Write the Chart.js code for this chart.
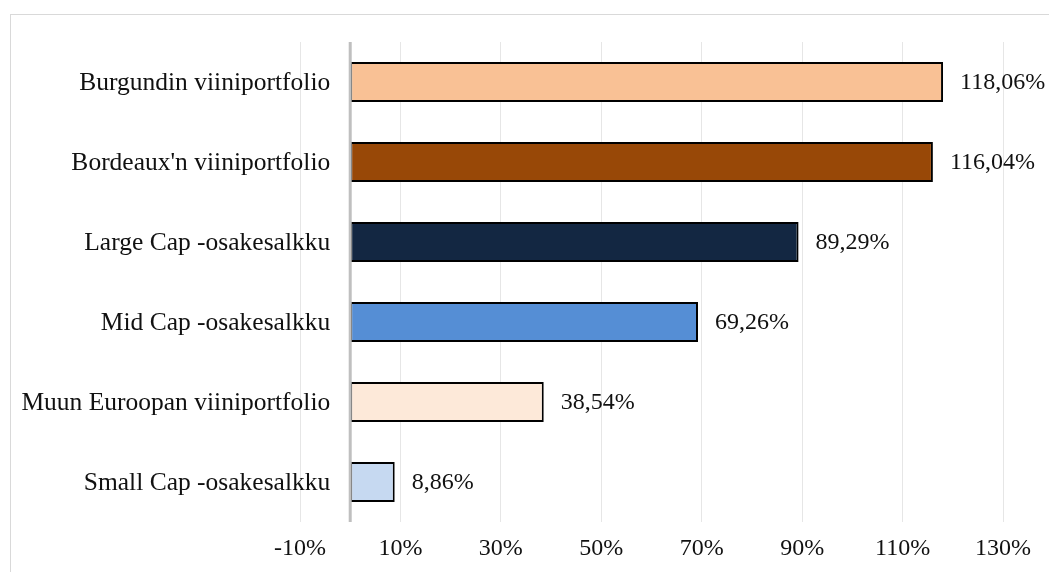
<!DOCTYPE html>
<html>
<head>
<meta charset="utf-8">
<script src="https://cdn.jsdelivr.net/npm/chart.js@4"></script>
<style>
    html, body { margin: 0; padding: 0; background: #fff; overflow: hidden; }
    #frame { position: absolute; left: 10px; top: 14px; width: 1100px; height: 620px; border: 1px solid #d9d9d9; }
    #wrap { position: absolute; left: 0; top: 0; width: 1049px; height: 572px; }
</style>
</head>
<body>
<div id="frame"></div>
<div id="wrap"><canvas id="chart"></canvas></div>
<script>
const categories = [
    'Burgundin viiniportfolio',
    "Bordeaux'n viiniportfolio",
    'Large Cap -osakesalkku',
    'Mid Cap -osakesalkku',
    'Muun Euroopan viiniportfolio',
    'Small Cap -osakesalkku',
];
const returns = [118.06, 116.04, 89.29, 69.26, 38.54, 8.86];
const barColors = ['#f9c195', '#984807', '#132742', '#558ed5', '#fde9d9', '#c6d9f1'];
const xTicks = [-10, 10, 30, 50, 70, 90, 110, 130];

const FAMILY = '"Liberation Serif", "Times New Roman", serif';
const FONT = { family: FAMILY, size: 24 };
const CAT_FONT_SIZE = 25.5;
const TEXT = '#111';

const formatPct = (v) => v.toFixed(2).replace('.', ',') + '%';

// zero line, category names next to it, and value labels
const overlayPlugin = {
    id: 'overlay',
    afterDatasetsDraw(chart) {
        const { ctx, chartArea, scales } = chart;
        const x0 = scales.x.getPixelForValue(0);
        ctx.save();
        ctx.strokeStyle = '#bfbfbf';
        ctx.lineWidth = 3;
        ctx.beginPath();
        ctx.moveTo(x0, chartArea.top);
        ctx.lineTo(x0, chartArea.bottom);
        ctx.stroke();

        ctx.fillStyle = TEXT;
        ctx.textBaseline = 'middle';

        ctx.font = `${CAT_FONT_SIZE}px ${FAMILY}`;
        ctx.textAlign = 'right';
        categories.forEach((name, i) => {
            ctx.fillText(name, x0 - 20, scales.y.getPixelForValue(i) + 1);
        });

        ctx.font = `${FONT.size}px ${FAMILY}`;
        ctx.textAlign = 'left';
        chart.getDatasetMeta(0).data.forEach((bar, i) => {
            ctx.fillText(formatPct(returns[i]), bar.x + 17, bar.y + 1);
        });
        ctx.restore();
    },
};

new Chart(document.getElementById('chart').getContext('2d'), {
    type: 'bar',
    data: {
        labels: categories,
        datasets: [{
            data: returns,
            backgroundColor: barColors,
            borderColor: '#000',
            borderWidth: 2,
            borderSkipped: false,
            barPercentage: 0.5,
            categoryPercentage: 1,
        }],
    },
    options: {
        indexAxis: 'y',
        responsive: true,
        maintainAspectRatio: false,
        animation: false,
        layout: { padding: { top: 42, right: 46, left: 0, bottom: 0 } },
        plugins: {
            legend: { display: false },
            tooltip: { enabled: false },
        },
        scales: {
            x: {
                min: -10,
                max: 130,
                afterBuildTicks: (scale) => {
                    scale.ticks = xTicks.map((value) => ({ value }));
                },
                afterFit: (scale) => { scale.height = 50; },
                ticks: {
                    color: TEXT,
                    font: FONT,
                    padding: 12,
                    maxRotation: 0,
                    autoSkip: false,
                    callback: (v) => v + '%',
                },
                grid: { color: '#e6e6e6', lineWidth: 1, drawTicks: false },
                border: { display: false },
            },
            y: {
                afterFit: (scale) => { scale.width = 300; },
                ticks: { display: false },
                grid: { display: false, drawTicks: false },
                border: { display: false },
            },
        },
    },
    plugins: [overlayPlugin],
});
</script>
</body>
</html>
